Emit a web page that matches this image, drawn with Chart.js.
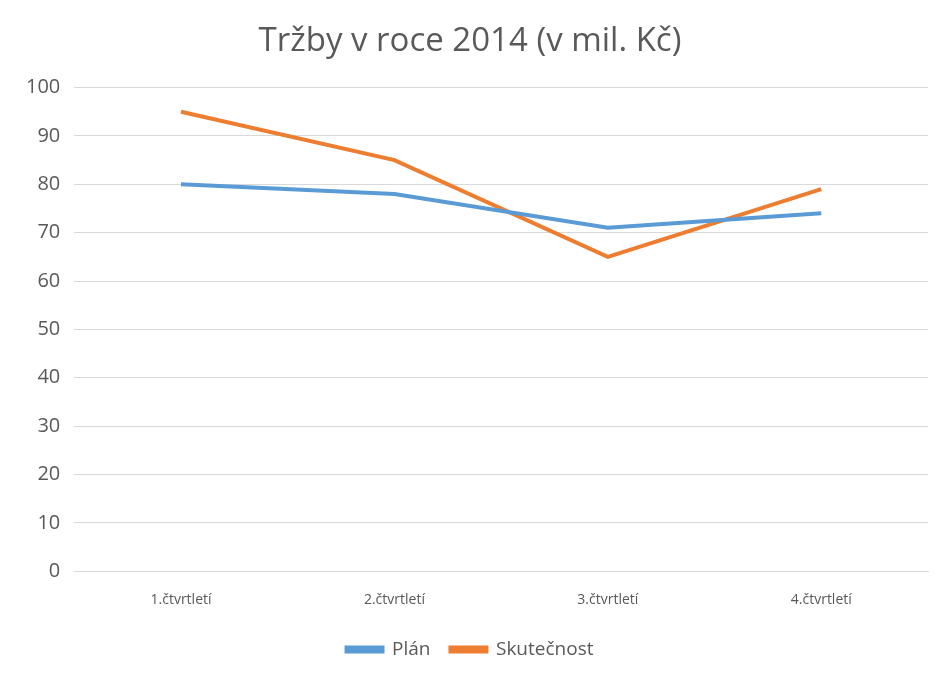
<!DOCTYPE html>
<html>
<head>
<meta charset="utf-8">
<script src="https://cdn.jsdelivr.net/npm/chart.js@4/dist/chart.umd.min.js"></script>
<style>
  html, body { margin: 0; padding: 0; background: #fff; }
  #wrap { width: 948px; height: 681px; }
</style>
</head>
<body>
<div id="wrap"><canvas id="graf"></canvas></div>
<script>
// data z grafu
const ctvrtleti = ['1.čtvrtletí', '2.čtvrtletí', '3.čtvrtletí', '4.čtvrtletí'];
const plan = [80, 78, 71, 74];
const skutecnost = [95, 85, 65, 79];

const pismo = "'Open Sans', 'Liberation Sans', sans-serif";
const seda = '#595959';

new Chart(document.getElementById('graf'), {
  type: 'line',
  data: {
    labels: ctvrtleti,
    datasets: [
      { label: 'Plán', data: plan, borderColor: '#5B9BD5', backgroundColor: '#5B9BD5', borderWidth: 4, pointRadius: 0, tension: 0 },
      { label: 'Skutečnost', data: skutecnost, borderColor: '#ED7D31', backgroundColor: '#ED7D31', borderWidth: 4, pointRadius: 0, tension: 0 }
    ]
  },
  options: {
    responsive: true,
    maintainAspectRatio: false,
    animation: false,
    layout: { padding: { left: 12, right: 20, top: 18, bottom: 12 } },
    plugins: {
      title: {
        display: true,
        text: 'Tržby v roce 2014 (v mil. Kč)',
        color: seda,
        font: { family: pismo, size: 33, weight: 'normal' },
        padding: { top: 4, bottom: 26 }
      },
      legend: {
        position: 'bottom',
        labels: {
          color: seda,
          font: { family: pismo, size: 19 },
          boxWidth: 36, boxHeight: 4, padding: 20
        }
      },
      tooltip: { enabled: false }
    },
    scales: {
      x: {
        offset: true,
        grid: { display: false },
        border: { color: '#d9d9d9' },
        ticks: { color: seda, font: { family: pismo, size: 14 }, padding: 12 }
      },
      y: {
        min: 0, max: 100,
        ticks: { stepSize: 10, color: seda, font: { family: pismo, size: 20 }, padding: 14 },
        grid: { color: '#d9d9d9', drawTicks: false },
        border: { display: false }
      }
    }
  }
});
</script>
</body>
</html>
